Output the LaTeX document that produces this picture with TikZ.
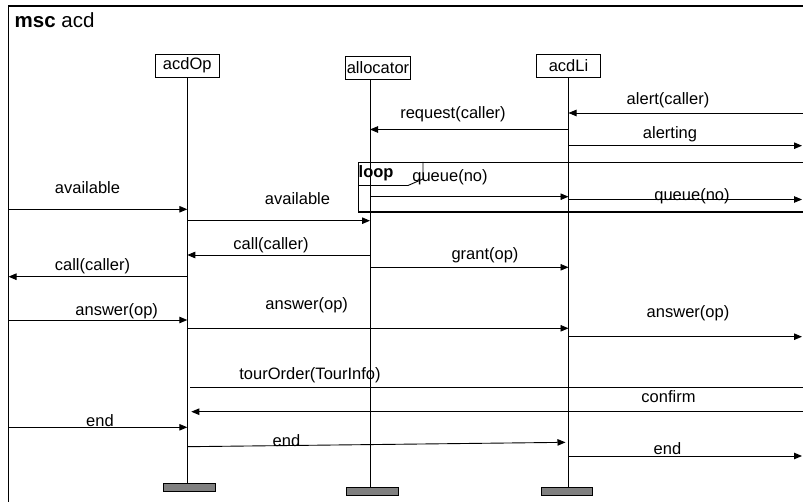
\documentclass[tikz,border=0pt]{standalone}
\usepackage{fontspec}
\setmainfont{Liberation Sans}
\usetikzlibrary{arrows.meta,positioning}

\tikzset{
  head/.style={draw, line width=0.9pt, minimum width=64pt, minimum height=23pt, inner sep=1pt},
  bar/.style={draw, fill=gray, line width=0.8pt, minimum width=51.5pt, minimum height=8pt, inner sep=0pt},
  msg/.style={line width=0.9pt, -{Triangle[length=8pt,width=6.5pt]}},
  lbl/.style={anchor=base, inner sep=0pt},
}

\begin{document}
\begin{tikzpicture}[x=1pt, y=-1pt, font=\fontsize{16.5}{20}\selectfont]
\useasboundingbox (0,0) rectangle (803,502);
\clip (0,0) rectangle (803,502);

% Frame of the chart
\draw[line width=1.3pt] (8.5,520) -- (8.5,6) -- (830,6);
\node[lbl, anchor=base west, font=\fontsize{20.5}{24}\selectfont] (title) at (14.5,27.3) {\textbf{msc} acd};
\coordinate (envL) at (8.5,0);
\coordinate (envR) at (802,0);
\coordinate (envOut) at (830,0);

% Instance heads
\node[head] (acdOp) at (187.3,65.5) {acdOp};
\node[head] (allocator) at (378,67.5) {allocator};
\node[head] (acdLi) at (568.5,65.5) {acdLi};
\coordinate (lOp) at (acdOp.south);
\coordinate (lAlloc) at ([xshift=-8pt]allocator.south);
\coordinate (lLi) at (acdLi.south);

% Instance ends
\node[bar] (opBar) at (189.25,487) {};
\node[bar] (allocBar) at (372.25,491) {};
\node[bar] (liBar) at (566.75,491) {};

% Lifelines
\draw[line width=0.9pt] (lOp) -- (lOp |- opBar.north);
\draw[line width=0.9pt] (lAlloc) -- (lAlloc |- allocBar.north);
\draw[line width=0.9pt] (lLi) -- (lLi |- liBar.north);

% Loop box
\draw[line width=0.9pt] (830,162) -- (358,162) -- (358,212);
\draw[line width=1.4pt] (358,212) -- (830,212);
\draw[line width=0.9pt] (423,162) -- (423,179) -- (408,185.5) -- (358,185.5);
\node[lbl, anchor=base west] (loopTag) at (358.5,178) {\textbf{loop}};

% Messages
\draw[msg] (envOut |- 0,113) -- (lLi |- 0,113);
\node[lbl] (tAlert) at (668,104.5) {alert(caller)};
\draw[msg] (lLi |- 0,129.5) -- (lAlloc |- 0,129.5);
\node[lbl] (tRequest) at (453,118.5) {request(caller)};
\draw[msg] (lLi |- 0,145.7) -- (envR |- 0,145.7);
\node[lbl] (tAlerting) at (670,138.2) {alerting};

\draw[msg] (lAlloc |- 0,196.7) -- (lLi |- 0,196.7);
\node[lbl] (tQueueA) at (450,181.5) {queue(no)};
\draw[msg] (lLi |- 0,199.5) -- (envR |- 0,199.5);
\node[lbl] (tQueueB) at (692,200.5) {queue(no)};

\draw[msg] (envL |- 0,209.3) -- (lOp |- 0,209.3);
\node[lbl] (tAvailA) at (87.5,193.3) {available};
\draw[msg] (lOp |- 0,220.7) -- (lAlloc |- 0,220.7);
\node[lbl] (tAvailB) at (297.5,204.3) {available};

\draw[msg] (lAlloc |- 0,255) -- (lOp |- 0,255);
\node[lbl] (tCallA) at (271,249.2) {call(caller)};
\draw[msg] (lAlloc |- 0,267.3) -- (lLi |- 0,267.3);
\node[lbl] (tGrant) at (485,259.8) {grant(op)};
\draw[msg] (lOp |- 0,276.7) -- (envL |- 0,276.7);
\node[lbl] (tCallB) at (92.5,270.8) {call(caller)};

\draw[msg] (envL |- 0,320) -- (lOp |- 0,320);
\node[lbl] (tAnsA) at (116.7,315.8) {answer(op)};
\draw[msg] (lOp |- 0,328.3) -- (lLi |- 0,328.3);
\node[lbl] (tAnsB) at (306.7,309.2) {answer(op)};
\draw[msg] (lLi |- 0,336.7) -- (envR |- 0,336.7);
\node[lbl] (tAnsC) at (688,317.2) {answer(op)};

\draw[msg, shorten <=3pt] (lOp |- 0,387) -- (envOut |- 0,387);
\node[lbl] (tTour) at (310,379.8) {tourOrder(TourInfo)};
\draw[msg, shorten >=4pt] (envOut |- 0,411.7) -- (lOp |- 0,411.7);
\node[lbl] (tConfirm) at (668.5,402.7) {confirm};

\draw[msg] (envL |- 0,427.3) -- (lOp |- 0,427.3);
\node[lbl] (tEndA) at (100,426.7) {end};
\draw[msg, shorten >=3pt] (lOp |- 0,446.7) -- (lLi |- 0,442.3);
\node[lbl] (tEndB) at (286.5,446) {end};
\draw[msg] (lLi |- 0,456) -- (envR |- 0,456);
\node[lbl] (tEndC) at (667.5,454) {end};

\end{tikzpicture}
\end{document}
